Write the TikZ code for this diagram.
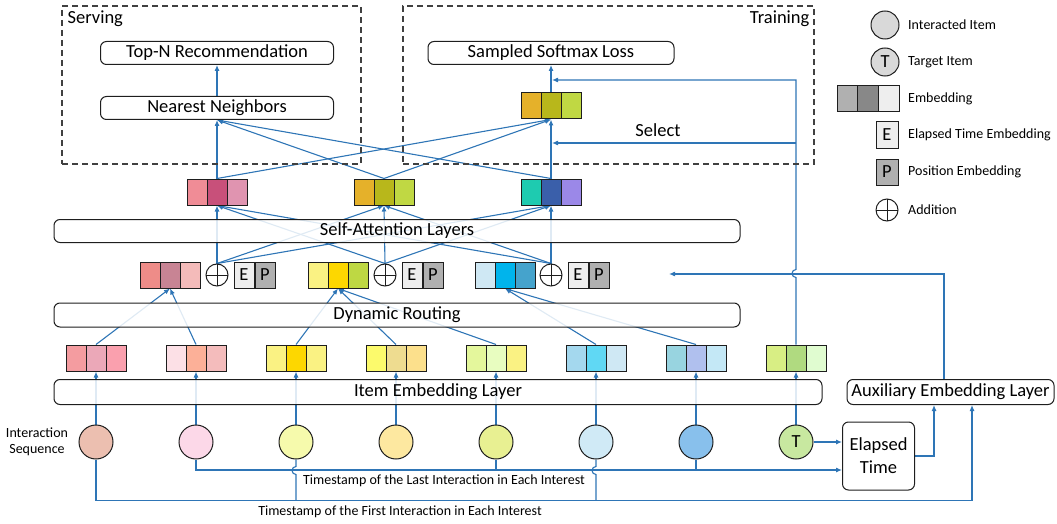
\documentclass[tikz,border=0pt]{standalone}
\usepackage{fontspec}
\setmainfont{Carlito}
\usepackage{xcolor}
\usepackage{tikz}
\usetikzlibrary{arrows.meta,positioning,calc,backgrounds}
\definecolor{flow}{RGB}{46,117,182}
\definecolor{ink}{RGB}{30,30,30}
\definecolor{legendgray}{RGB}{217,217,217}
\newcommand{\bigtxt}{\fontsize{18.5pt}{22pt}\selectfont}
\newcommand{\smalltxt}{\fontsize{14pt}{16.5pt}\selectfont}

\tikzset{
  hexfill/.code={\definecolor{hexcol}{HTML}{#1}\pgfkeysalso{/tikz/fill=hexcol}},
  emb/.style n args={3}{draw=ink, line width=1pt, minimum width=60pt, minimum height=26pt, inner sep=0pt,
    path picture={
      \definecolor{cA}{HTML}{#1}\definecolor{cB}{HTML}{#2}\definecolor{cC}{HTML}{#3}
      \path (path picture bounding box.south west) coordinate (pa)
            (path picture bounding box.north east) coordinate (pb);
      \fill[cA] (pa) rectangle ($(pa|-pb)!1/3!(pb)$);
      \fill[cB] ($(pa)!1/3!(pa-|pb)$) rectangle ($(pa|-pb)!2/3!(pb)$);
      \fill[cC] ($(pa)!2/3!(pa-|pb)$) rectangle (pb);
      \draw[ink, line width=1pt] ($(pa)!1/3!(pa-|pb)$) -- ($(pa|-pb)!1/3!(pb)$)
                                 ($(pa)!2/3!(pa-|pb)$) -- ($(pa|-pb)!2/3!(pb)$);
    }},
  seqitem/.style={circle, draw=ink, line width=1pt, minimum size=34pt, inner sep=0pt, hexfill=#1},
  tagbox/.style={draw=ink, line width=1pt, minimum width=20pt, minimum height=26pt, inner sep=0pt, hexfill=#1},
  addnode/.style={circle, draw=ink, line width=1pt, minimum size=22pt, inner sep=0pt,
    path picture={\draw[ink, line width=1pt]
      (path picture bounding box.north) -- (path picture bounding box.south)
      (path picture bounding box.west) -- (path picture bounding box.east);}},
  box/.style={draw=ink, line width=1pt, rounded corners=6pt, fill=white, inner sep=2pt},
  layer/.style={box, fill opacity=0.85, text opacity=1},
  dashframe/.style={draw=black!75, line width=1.2pt, dash pattern=on 6pt off 4pt},
  wire/.style={draw=flow, line width=1.1pt},
  feed/.style={wire, -{Latex[length=6pt, width=5pt]}},
  legtxt/.style={anchor=west, inner sep=0pt, font=\smalltxt}
}

\begin{document}
\begin{tikzpicture}[x=1pt, y=-1pt, font=\bigtxt]
\useasboundingbox (0,0) rectangle (1057,524);
% serving and training parts
\node[dashframe, minimum width=299pt, minimum height=158pt] (serve) at (211.5,85) {};
\node[anchor=north west, inner xsep=6pt, inner ysep=5pt] (servelbl) at (serve.north west) {Serving};
\node[dashframe, minimum width=411pt, minimum height=158pt] (train) at (608.5,85) {};
\node[anchor=north east, inner xsep=5pt, inner ysep=5pt] (trainlbl) at (train.north east) {Training};
\node[box, minimum width=233pt, minimum height=23pt] (topn) at (217,53) {Top-N Recommendation};
\node[box, minimum width=233pt, minimum height=23pt] (nn) at (217,108) {Nearest Neighbors};
\node[box, minimum width=246pt, minimum height=23pt] (loss) at (551,53) {Sampled Softmax Loss};
\node[emb={E5B12A}{B8B71B}{C0D843}] (temb) at (551,106) {};
\node (sel) at (658,130) {Select};
\coordinate (selTop) at (552,80);
\coordinate (selLow) at (552,143);

% interest embeddings
\node[emb={F08C96}{C8507A}{E094B0}] (s1) at (217,192) {};
\node[emb={E5B12A}{B8B71B}{C0D843}] (s2) at (384,192) {};
\node[emb={1ECBB0}{3A5FAA}{9B88E8}] (s3) at (551,192) {};
\node[layer, minimum width=686pt, minimum height=23pt] (sal) at (397,231) {Self-Attention Layers};

% capsules with elapsed time and position embeddings
\node[emb={EE8C88}{C88494}{F4BBBA}] (k1) at (170,275) {};
\node[addnode] (a1) at (217,275) {};
\node[tagbox=EEEEEE, right=5pt of a1] (t1) {E};
\node[tagbox=B0B0B0, right=0pt of t1] (p1) {P};
\node[emb={FAF283}{FDD700}{BED843}] (k2) at (338,275) {};
\node[addnode] (a2) at (385,275) {};
\node[tagbox=EEEEEE, right=5pt of a2] (t2) {E};
\node[tagbox=B0B0B0, right=0pt of t2] (p2) {P};
\node[emb={CFE8F4}{00B4EC}{45A3CC}] (k3) at (505,275) {};
\node[addnode] (a3) at (551,275) {};
\node[tagbox=EEEEEE, right=5pt of a3] (t3) {E};
\node[tagbox=B0B0B0, right=0pt of t3] (p3) {P};
\coordinate (auxIn) at (669,274);
\node[layer, minimum width=686pt, minimum height=24pt] (dr) at (397,315) {Dynamic Routing};

% item embeddings
\node[emb={F49CA0}{EBA8B8}{FAA0AE}] (e1) at (96,358) {};
\node[emb={FCE0E6}{FCB098}{F4BCBC}] (e2) at (196,358) {};
\node[emb={FAF283}{FDD700}{FAF283}] (e3) at (296,358) {};
\node[emb={FCFA6C}{EEDC90}{FCE08C}] (e4) at (396,358) {};
\node[emb={E4F79C}{E8FDC0}{FAF283}] (e5) at (496,358) {};
\node[emb={A4D8EE}{60D8F4}{CFE8F4}] (e6) at (596,358) {};
\node[emb={98D4E0}{B0C0EE}{C4E8F6}] (e7) at (696,358) {};
\node[emb={D8EE84}{B0DA80}{E0FCD0}] (e8) at (796,358) {};
\node[layer, minimum width=768pt, minimum height=25pt] (iel) at (438,392) {Item Embedding Layer};
\node[box, minimum width=207pt, minimum height=25pt, inner sep=1pt] (ael) at (950.5,392) {Auxiliary Embedding Layer};

% interaction sequence
\node[align=center, font=\smalltxt] (seqlbl) at (37,442) {Interaction\\Sequence};
\node[seqitem=ECBFB0] (c1) at (96,442) {};
\node[seqitem=FCD8E8] (c2) at (196,442) {};
\node[seqitem=F6FAAC] (c3) at (296,442) {};
\node[seqitem=FDE8A0] (c4) at (396,442) {};
\node[seqitem=E8F092] (c5) at (496,442) {};
\node[seqitem=D0EAF6] (c6) at (596,442) {};
\node[seqitem=88C0EC] (c7) at (696,442) {};
\node[seqitem=C8E8A0] (c8) at (796,442) {T};
\node[box, align=center, minimum width=72pt, minimum height=68pt, font=\fontsize{18.5pt}{23pt}\selectfont] (et) at (878.5,456) {Elapsed\\Time};
\node[font=\smalltxt] (lastlbl) at (444,481) {Timestamp of the Last Interaction in Each Interest};
\node[font=\smalltxt] (firstlbl) at (400,512) {Timestamp of the First Interaction in Each Interest};

% legend
\node[circle, draw=ink, line width=1pt, fill=legendgray, minimum size=28pt] (lg1) at (885,25) {};
\node[legtxt] (lt1) at (908,25) {Interacted Item};
\node[circle, draw=ink, line width=1pt, fill=legendgray, minimum size=28pt, inner sep=0pt] (lg2) at (885,62) {T};
\node[legtxt] (lt2) at (908,62) {Target Item};
\node[emb={B0B0B0}{888888}{EEEEEE}, minimum width=62pt] (lg3) at (868,99) {};
\node[legtxt] (lt3) at (908,99) {Embedding};
\node[tagbox=EEEEEE, minimum width=22pt] (lg4) at (887,135) {E};
\node[legtxt] (lt4) at (908,135) {Elapsed Time Embedding};
\node[tagbox=B0B0B0, minimum width=22pt] (lg5) at (887,172) {P};
\node[legtxt] (lt5) at (908,172) {Position Embedding};
\node[addnode] (lg6) at (887,210) {};
\node[legtxt] (lt6) at (908,210) {Addition};

\begin{scope}[on background layer]
% items into the embedding layer
\foreach \i in {1,...,8} \draw[feed] (c\i.north) -- (e\i.south);
% dynamic routing into capsules
\draw[feed] (e1.north) -- (k1.south);
\draw[feed] (e2.north) -- (k1.south);
\draw[feed] (e3.north) -- (k2.south);
\draw[feed] (e4.north) -- (k2.south);
\draw[feed] (e5.north) -- (k2.south);
\draw[feed] (e6.north) -- (k3.south);
\draw[feed] (e7.north) -- (k3.south);
% self-attention
\foreach \a in {a1,a2,a3} \foreach \s in {s1,s2,s3} \draw[feed] (\a.north) -- (\s.south);
% serving and training
\foreach \s in {s1,s2,s3} {
  \draw[feed] (\s.north) -- (nn.south);
  \draw[feed] (\s.north) -- (temb.south);
}
\draw[feed] (nn.north) -- (topn.south);
\draw[feed] (temb.north) -- (loss.south);
% target item
\draw[feed] (e8.north) -- ++(0,-67) arc[start angle=90, end angle=270, radius=4] |- (selTop);
\draw[feed] (e8.north |- selLow) -- (selLow);
\draw[feed] ([xshift=-6.5pt]ael.north) |- (auxIn);
\draw[feed] (c8.east) -- (c8.east -| et.west);
% timestamps
\draw[feed] (c2.south) |- ([yshift=-14pt]et.west);
\draw[wire] (c5.south) -- ++(0,10);
\draw[wire] (c7.south) -- ++(0,10);
\draw[feed] (c1.south) -- ++(0,41) -| ([xshift=21.5pt]ael.south);
\draw[wire] (c3.south) -- ++(0,7) arc[start angle=270, end angle=90, radius=4] -- ++(0,26);
\draw[wire] (c6.south) -- ++(0,7) arc[start angle=270, end angle=90, radius=4] -- ++(0,26);
\draw[feed] (et.east) -| ([xshift=-16.5pt]ael.south);
\end{scope}
\end{tikzpicture}
\end{document}
